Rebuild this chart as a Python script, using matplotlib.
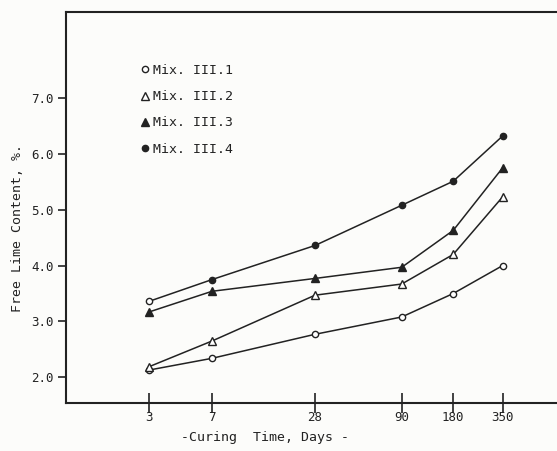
import matplotlib
matplotlib.use("Agg")
import matplotlib.pyplot as plt
from matplotlib.ticker import FixedLocator, NullLocator

days = [3, 7, 28, 90, 180, 350]
day_labels = ["3", "7", "28", "90", "180", "350"]
mix1 = [2.13, 2.34, 2.77, 3.08, 3.50, 4.00]
mix2 = [2.19, 2.65, 3.47, 3.67, 4.20, 5.23]
mix3 = [3.17, 3.54, 3.77, 3.97, 4.63, 5.75]
mix4 = [3.36, 3.75, 4.36, 5.08, 5.51, 6.32]
labels = ["Mix. III.1", "Mix. III.2", "Mix. III.3", "Mix. III.4"]
yticks = [2.0, 3.0, 4.0, 5.0, 6.0, 7.0]

W, H = 557, 451
fig = plt.figure(figsize=(W / 100, H / 100), dpi=100)
fig.patch.set_facecolor("#fcfcfa")
left, right, top, bottom = 66, 620, 12, 403
ax = fig.add_axes([left / W, 1 - bottom / H, (right - left) / W, (bottom - top) / H])
ax.set_facecolor("#fcfcfa")

c = "#222222"
font = "DejaVu Sans Mono"
ax.plot(days, mix1, color=c, lw=1.1, marker="o", ms=4.5, mfc="white", mec=c, mew=1.0, label=labels[0])
ax.plot(days, mix2, color=c, lw=1.1, marker="^", ms=6, mfc="white", mec=c, mew=1.0, label=labels[1])
ax.plot(days, mix3, color=c, lw=1.1, marker="^", ms=6, mfc=c, mec=c, mew=1.0, label=labels[2])
ax.plot(days, mix4, color=c, lw=1.1, marker="o", ms=4.5, mfc=c, mec=c, mew=1.0, label=labels[3],
        markevery=[1, 2, 3, 4, 5])
ax.plot(days[:1], mix4[:1], ls="none", marker="o", ms=4.5, mfc="white", mec=c, mew=1.0)

ax.set_xscale("log")
ax.set_xlim(0.98, 1700)
ax.set_ylim(1.54, 8.54)
ax.xaxis.set_major_locator(FixedLocator(days))
ax.xaxis.set_minor_locator(NullLocator())
ax.set_xticklabels(day_labels, fontfamily=font, fontsize=9, color=c)
ax.set_yticks(yticks)
ax.set_yticklabels([f"{v:.1f}" for v in yticks], fontfamily=font, fontsize=9, color=c)
ax.tick_params(axis="x", direction="inout", length=14, width=1.2, pad=-1, colors=c)
ax.tick_params(axis="y", direction="out", length=6, width=1.2, pad=3, colors=c)
for s in ["left", "bottom", "top"]:
    ax.spines[s].set_linewidth(1.5)
    ax.spines[s].set_color(c)
ax.spines["right"].set_visible(False)

ax.set_ylabel("Free Lime Content, %.", fontfamily=font, fontsize=9.5, color=c)
ax.yaxis.set_label_coords((24 - left) / (right - left), 1 - (228 - top) / (bottom - top))
fig.text(265 / W, 1 - 438 / H, "-Curing  Time, Days -", fontfamily=font, fontsize=9.5,
         color=c, ha="center", va="center")

leg = ax.legend(loc="upper left",
                bbox_to_anchor=((141 - left) / (right - left), 1 - (64 - top) / (bottom - top)),
                frameon=False, handlelength=0.6, handletextpad=0.3, labelspacing=1.0,
                prop={"family": font, "size": 9.5}, borderaxespad=0, borderpad=0)
for t in leg.get_texts():
    t.set_color(c)
for h in leg.legend_handles:
    h.set_linestyle("none")

fig.savefig("out.png", dpi=100, facecolor=fig.get_facecolor())
